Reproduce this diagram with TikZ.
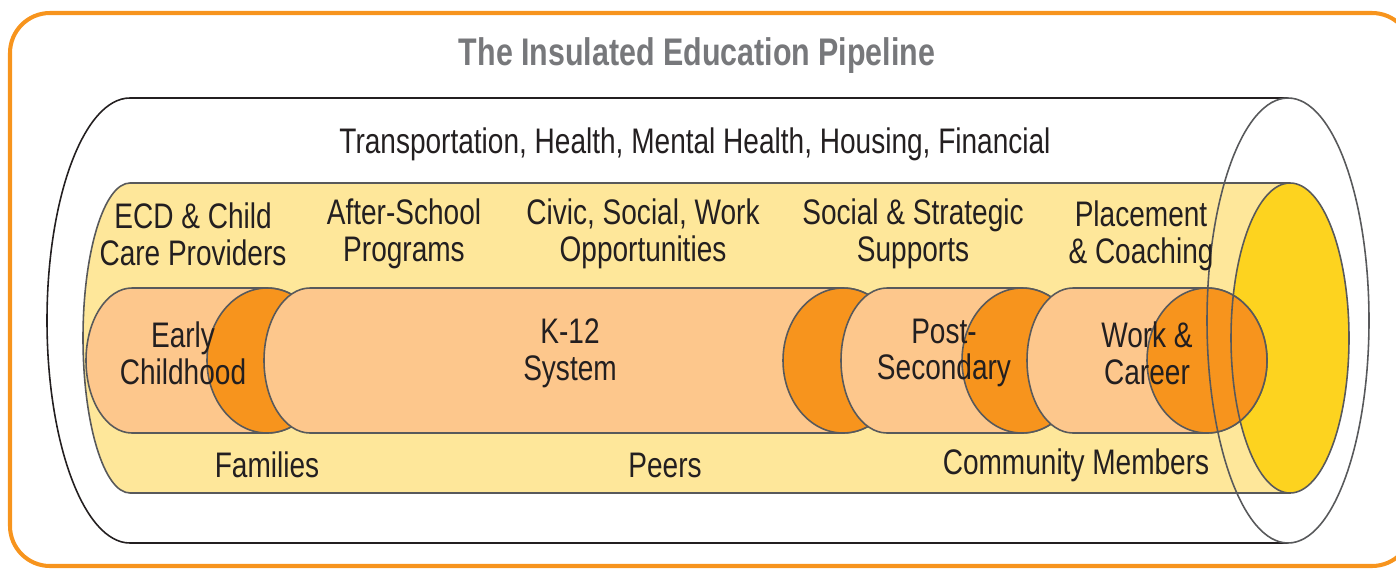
\documentclass[tikz,border=0pt]{standalone}
\usepackage{fontspec}
\setmainfont{Liberation Sans}[FakeStretch=0.79]
\usepackage{tikz}
\usetikzlibrary{positioning}
\definecolor{frameorange}{HTML}{F7941D}
\definecolor{capdark}{HTML}{F7941D}
\definecolor{pilllight}{HTML}{FDC78C}
\definecolor{bodyyellow}{HTML}{FEE79A}
\definecolor{capyellow}{HTML}{FDD31F}
\definecolor{edgegray}{HTML}{58595B}
\definecolor{titlegray}{HTML}{77787B}
\definecolor{inktext}{HTML}{231F20}

\begin{document}
\begin{tikzpicture}[x=0.02cm, y=-0.02cm,
	frame/.style={draw=frameorange, line width=2.3pt, rounded corners=0.8cm},
	outerline/.style={draw=inktext, line width=1.4pt},
	innerline/.style={draw=edgegray, line width=1.6pt},
	thinline/.style={draw=edgegray, line width=0.9pt},
	label/.style={text=inktext, align=center, font=\fontsize{20.2}{21}\selectfont}]
	\useasboundingbox (0,0) rectangle (1396,568);
	\draw[frame] (10,13) rectangle (1412,566);
	\draw[outerline] (1288,98) -- (130,98);
	\draw[outerline] (130,543) -- (1288,543);
	\draw[draw=inktext, line width=0.9pt] (130,98) arc[start angle=270, end angle=90, x radius=83, y radius=222.5];
	\fill[bodyyellow] (1290,183) -- (130,183) arc[start angle=270, end angle=90, x radius=47, y radius=155] -- (1290,493) -- cycle;
	\draw[innerline] (1290,183) -- (130,183);
	\draw[innerline] (130,493) -- (1290,493);
	\draw[thinline] (130,183) arc[start angle=270, end angle=90, x radius=47, y radius=155];
	\fill[capyellow] (1290,338) ellipse[x radius=59, y radius=155];
	\foreach \lx/\cx in {132/267, 310/843, 887/1022, 1073/1207} {
		\filldraw[thinline, fill=pilllight] (\cx,288) -- (\lx,288) arc[start angle=270, end angle=90, x radius=46, y radius=72.5]
			-- (\cx,433) arc[start angle=90, end angle=-90, x radius=60, y radius=72.5] -- cycle;
		\filldraw[thinline, fill=capdark] (\cx,360.5) ellipse[x radius=60, y radius=72.5];
	}
	\draw[thinline] (1290,338) ellipse[x radius=59, y radius=155];
	\draw[thinline] (1288,320.5) ellipse[x radius=81, y radius=222.5];
	\node[text=titlegray, font=\fontsize{21.9}{24}\selectfont\bfseries] (title) at (697,56) {The Insulated Education Pipeline};
	\node[label] (services) at (695,144) {Transportation, Health, Mental Health, Housing, Financial};
	\node[label] (ecd) at (193,234) {ECD \& Child\\Care Providers};
	\node[label] (afterschool) at (404,234) {After-School\\Programs};
	\node[label] (civic) at (643,234) {Civic, Social, Work\\Opportunities};
	\node[label] (strategic) at (913,234) {Social \& Strategic\\Supports};
	\node[label] (placement) at (1141,236) {Placement\\\& Coaching};
	\node[label] (early) at (183,353) {Early\\Childhood};
	\node[label] (kxii) at (570,353) {K-12\\System};
	\node[label] (postsec) at (944,353) {Post-\\Secondary};
	\node[label] (work) at (1147,353) {Work \&\\Career};
	\node[label] (families) at (267,465) {Families};
	\node[label] (peers) at (665,465) {Peers};
	\node[label] (community) at (1076,465) {Community Members};
\end{tikzpicture}
\end{document}
